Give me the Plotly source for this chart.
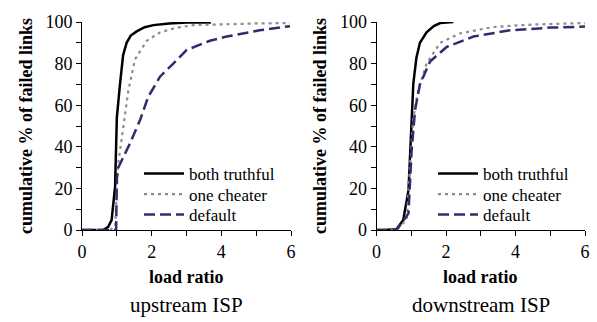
import plotly.graph_objects as go

# ---------------- data ----------------
# upstream ISP
up_truth_x = [0.0, 0.61, 0.75, 0.85, 0.95, 1.0, 1.09, 1.18, 1.28, 1.4, 1.57, 1.8, 2.05, 2.5, 3.0, 3.7]
up_truth_y = [0.0, 0.0, 1.5, 4.8, 20.8, 54.0, 70.0, 84.0, 90.0, 93.5, 95.5, 97.5, 98.5, 99.3, 99.7, 99.8]
up_cheat_x = [0.0, 0.8, 0.95, 1.04, 1.19, 1.33, 1.52, 1.86, 2.24, 2.7, 3.2, 4.0, 5.0, 5.97]
up_cheat_y = [0.0, 0.0, 1.6, 32.0, 50.0, 67.0, 82.0, 91.0, 95.0, 97.2, 98.5, 99.0, 99.3, 99.5]
up_def_x = [0.0, 0.65, 0.98, 1.0, 1.04, 1.38, 1.67, 1.9, 2.24, 2.62, 3.0, 3.67, 4.15, 5.1, 5.97]
up_def_y = [0.0, 0.0, 0.0, 25.0, 30.0, 41.7, 53.0, 64.0, 73.7, 80.0, 86.5, 91.0, 93.0, 96.0, 98.0]

# downstream ISP
dn_truth_x = [0.0, 0.25, 0.58, 0.77, 0.92, 0.98, 1.06, 1.15, 1.25, 1.44, 1.65, 1.83, 2.21]
dn_truth_y = [0.0, 0.0, 0.5, 4.8, 19.0, 45.0, 70.5, 83.0, 90.0, 95.0, 98.0, 99.5, 100.0]
dn_cheat_x = [0.0, 0.29, 0.6, 0.87, 0.96, 1.06, 1.2, 1.44, 1.83, 2.4, 3.36, 4.5, 6.0]
dn_cheat_y = [0.0, 0.0, 0.5, 5.0, 30.0, 54.0, 67.0, 80.0, 90.0, 94.5, 97.6, 98.8, 99.5]
dn_def_x = [0.0, 0.29, 0.6, 0.92, 1.01, 1.11, 1.25, 1.54, 2.02, 2.79, 3.84, 5.0, 6.0]
dn_def_y = [0.0, 0.0, 0.5, 8.0, 38.0, 57.7, 70.0, 81.0, 88.0, 93.0, 96.0, 97.3, 97.8]

series_names = ["both truthful", "one cheater", "default"]
x_tick_vals = [0, 2, 4, 6]
y_tick_vals = [0, 20, 40, 60, 80, 100]
panel_titles = ["upstream ISP", "downstream ISP"]

# ---------------- styling ----------------
FONT = "Liberation Serif"
W, H = 597, 322
styles = [
    dict(color="black", width=2.5, dash="solid"),
    dict(color="#8c8c8c", width=2.2, dash="3px,4px"),
    dict(color="#2e2e6b", width=2.5, dash="11px,5px"),
]

fig = go.Figure()

legend_ids = [["legend", "legend2", "legend3"], ["legend4", "legend5", "legend6"]]
panels = [
    ([up_truth_x, up_cheat_x, up_def_x], [up_truth_y, up_cheat_y, up_def_y], "x", "y"),
    ([dn_truth_x, dn_cheat_x, dn_def_x], [dn_truth_y, dn_cheat_y, dn_def_y], "x2", "y2"),
]
for p, (xs, ys, xa, ya) in enumerate(panels):
    for k, (name, x, y, st) in enumerate(zip(series_names, xs, ys, styles)):
        fig.add_trace(go.Scatter(x=x, y=y, mode="lines", name=name, line=st,
                                 xaxis=xa, yaxis=ya, legend=legend_ids[p][k]))

# domains (pixel-based)
ytop, ybot = 22, 230
ydom = [1 - ybot / H, 1 - ytop / H]
xdoms = [[82 / W, 291 / W], [376.5 / W, 585 / W]]

axis_common = dict(showline=True, linecolor="black", linewidth=1, ticks="outside",
                   ticklen=5, tickwidth=1, tickcolor="black", showgrid=False, zeroline=False,
                   automargin=False,
                   tickfont=dict(family=FONT, size=18, color="black"))

for i, xd in enumerate(xdoms):
    sfx = "" if i == 0 else str(i + 1)
    fig.layout["xaxis" + sfx] = dict(domain=xd, range=[0, 6], tickvals=x_tick_vals,
                                     minor=dict(dtick=1, tick0=0, ticks="outside", ticklen=5,
                                                tickcolor="black"),
                                     anchor="y" + sfx, **axis_common)
    fig.layout["yaxis" + sfx] = dict(domain=ydom, range=[0, 100], tickvals=y_tick_vals,
                                     minor=dict(dtick=10, tick0=0, ticks="outside", ticklen=5,
                                                tickcolor="black"),
                                     anchor="x" + sfx,
                                     title=dict(text="<b>cumulative % of failed links</b>",
                                                font=dict(family=FONT, size=18, color="black"),
                                                standoff=8),
                                     **axis_common)

annotations = []
for i, xd in enumerate(xdoms):
    cx = (xd[0] + xd[1]) / 2
    annotations.append(dict(text="<b>load ratio</b>", x=cx, y=1 - 277 / H, xref="paper", yref="paper",
                            showarrow=False, font=dict(family=FONT, size=18, color="black"),
                            xanchor="center", yanchor="middle"))
    annotations.append(dict(text=panel_titles[i], x=cx, y=1 - 305 / H, xref="paper", yref="paper",
                            showarrow=False, font=dict(family=FONT, size=21, color="black"),
                            xanchor="center", yanchor="middle"))

legend_common = dict(font=dict(family=FONT, size=17, color="black"), bgcolor="rgba(0,0,0,0)",
                     xanchor="left", yanchor="middle", itemwidth=40, tracegroupgap=0)
row_y = [174, 194.5, 215]
legend_x = [139, 433]
legend_layout = {}
for p in range(2):
    for k in range(3):
        legend_layout[legend_ids[p][k]] = dict(x=legend_x[p] / W, y=1 - row_y[k] / H, **legend_common)

fig.update_layout(
    width=W, height=H,
    font=dict(family=FONT, color="black"),
    margin=dict(l=0, r=0, t=0, b=0),
    paper_bgcolor="white", plot_bgcolor="white",
    annotations=annotations,
    showlegend=True,
    **legend_layout,
)

fig.write_html("out.html", config={"displayModeBar": False},
               post_script="document.body.style.margin='0';")
